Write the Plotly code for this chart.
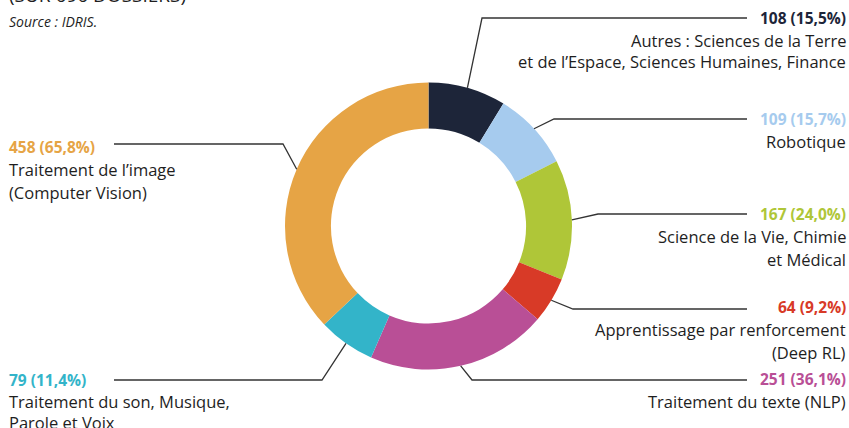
import math
import plotly.graph_objects as go

# ---------------- data ----------------
categories = [
    ["Autres : Sciences de la Terre", "et de l’Espace, Sciences Humaines, Finance"],
    ["Robotique"],
    ["Science de la Vie, Chimie", "et Médical"],
    ["Apprentissage par renforcement", "(Deep RL)"],
    ["Traitement du texte (NLP)"],
    ["Traitement du son, Musique,", "Parole et Voix"],
    ["Traitement de l’image", "(Computer Vision)"],
]
values = [108, 109, 167, 64, 251, 79, 458]
percents = [15.5, 15.7, 24.0, 9.2, 36.1, 11.4, 65.8]
colors = ["#1d2539", "#a6cbee", "#afc638", "#d83a27", "#b94f96", "#33b4c9", "#e6a445"]

title_text = "(SUR 696 DOSSIERS)"
source_text = "Source : IDRIS."

# ---------------- layout params ----------------
W, H = 849, 428
cx, cy, R = 428.5, 226.0, 143.5
FONT = "Open Sans"
TXT = "#1e1e1e"
LINE = "#333333"

# per-label layout: side, value-line y, elbow x, leader y
label_side = ["r", "r", "r", "r", "r", "l", "l"]
label_y = [18, 119, 214, 307, 379, 380, 147]
leader_y = [18, 119, 214, 309, 380, 380, 144]
line_gap = [22, 22, 22.5, 22.5, 22, 21, 22.5]
elbow_x = [482, 554, 598, 573, 472, 322, 283]
right_end_x, left_end_x = 747, 114
right_text_x, left_text_x = 848, 7


def px(x):
    return x / W


def py(y):
    return 1 - y / H


fig = go.Figure(
    go.Pie(
        values=values,
        labels=[" ".join(c) for c in categories],
        marker=dict(colors=colors, line=dict(width=0)),
        hole=0.68,
        sort=False,
        direction="clockwise",
        rotation=0,
        textinfo="none",
        hoverinfo="label+value",
        domain=dict(x=[px(cx - R), px(cx + R)], y=[py(cy + R), py(cy - R)]),
        showlegend=False,
    )
)

total = sum(values)
annotations = []
shapes = []
cum = 0
for i, v in enumerate(values):
    mid = (cum + v / 2) / total * 2 * math.pi
    cum += v
    sx = cx + R * math.sin(mid)
    sy = cy - R * math.cos(mid)
    endx = right_end_x if label_side[i] == "r" else left_end_x
    path = "M {} {} L {} {} L {} {}".format(
        px(sx), py(sy), px(elbow_x[i]), py(leader_y[i]), px(endx), py(leader_y[i])
    )
    shapes.append(dict(type="path", path=path, xref="paper", yref="paper",
                       line=dict(color=LINE, width=1.3)))

    side = label_side[i]
    tx = right_text_x if side == "r" else left_text_x
    anchor = "right" if side == "r" else "left"
    val_txt = "<b>{} ({}%)</b>".format(v, ("%.1f" % percents[i]).replace(".", ","))
    annotations.append(dict(text=val_txt, x=px(tx), y=py(label_y[i]), xref="paper", yref="paper",
                            xanchor=anchor, yanchor="middle", showarrow=False,
                            font=dict(family=FONT, size=15.5, color=colors[i])))
    for k, line in enumerate(categories[i]):
        annotations.append(dict(text=line, x=px(tx), y=py(label_y[i] + line_gap[i] * (k + 1)),
                                xref="paper", yref="paper", xanchor=anchor, yanchor="middle",
                                showarrow=False, font=dict(family=FONT, size=16.5, color=TXT)))

annotations.append(dict(text=title_text, x=px(7), y=py(-5), xref="paper", yref="paper",
                        xanchor="left", yanchor="middle", showarrow=False,
                        font=dict(family=FONT, size=19, color=TXT)))
annotations.append(dict(text="<i>" + source_text + "</i>", x=px(7), y=py(21), xref="paper",
                        yref="paper", xanchor="left", yanchor="middle", showarrow=False,
                        font=dict(family=FONT, size=14, color=TXT)))

fig.update_layout(
    width=W, height=H,
    margin=dict(l=0, r=0, t=0, b=0),
    paper_bgcolor="white",
    plot_bgcolor="white",
    annotations=annotations,
    shapes=shapes,
    font=dict(family=FONT),
)

fig.write_html("out.html", config={"displayModeBar": False},
               post_script="document.body.style.margin='0';")
